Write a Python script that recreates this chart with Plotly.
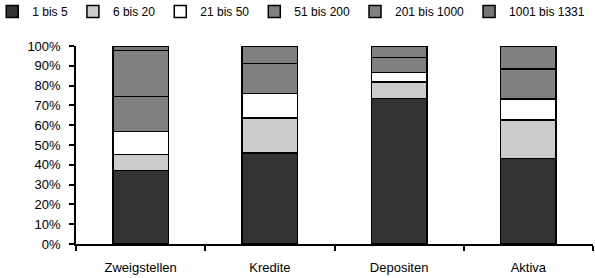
import plotly.graph_objects as go

categories = ["Zweigstellen", "Kredite", "Depositen", "Aktiva"]
series_names = ["1 bis 5", "6 bis 20", "21 bis 50", "51 bis 200", "201 bis 1000", "1001 bis 1331"]
v_1_5 = [37.0, 46.0, 73.6, 43.3]
v_6_20 = [8.3, 17.7, 8.1, 19.3]
v_21_50 = [11.4, 12.3, 4.8, 10.6]
v_51_200 = [17.7, 15.1, 7.6, 15.3]
v_201_1000 = [23.4, 8.9, 5.9, 11.5]
v_1001_1331 = [2.2, 0.0, 0.0, 0.0]
y_ticks = [0, 10, 20, 30, 40, 50, 60, 70, 80, 90, 100]
y_ticklabels = [f"{t}%" for t in y_ticks]

series_values = [v_1_5, v_6_20, v_21_50, v_51_200, v_201_1000, v_1001_1331]
colors = ["#333333", "#cccccc", "#ffffff", "#808080", "#808080", "#767676"]

fig = go.Figure()
for name, vals, col in zip(series_names, series_values, colors):
    fig.add_trace(go.Bar(
        name=name, x=categories, y=vals,
        marker=dict(color=col, line=dict(color="#000000", width=1.5)),
    ))

font_family = "Liberation Sans, Arial, sans-serif"
fig.update_layout(
    barmode="stack",
    bargap=0.57,
    width=595, height=278,
    margin=dict(l=76, r=2, t=46, b=34, autoexpand=False),
    paper_bgcolor="white", plot_bgcolor="white",
    font=dict(family=font_family, size=13, color="#000000"),
    showlegend=True,
    legend=dict(
        orientation="h",
        x=-0.162, xanchor="left",
        y=1.2474, yanchor="top",
        font=dict(size=12),
        traceorder="normal",
        bgcolor="rgba(0,0,0,0)",
        itemwidth=30,
    ),
)
fig.update_xaxes(
    showline=True, linecolor="#000000", linewidth=1.5,
    ticks="outside", tickson="boundaries", ticklen=5, tickcolor="#000000", tickwidth=1.5,
    showgrid=False, tickfont=dict(size=13), ticklabelstandoff=11,
)
fig.update_yaxes(
    range=[0, 100], tickvals=y_ticks, ticktext=y_ticklabels,
    showline=True, linecolor="#000000", linewidth=1.5,
    ticks="outside", ticklen=5, tickcolor="#000000", tickwidth=1.5,
    showgrid=False, zeroline=False, tickfont=dict(size=13), ticklabelstandoff=6,
)

fig.write_html("out.html", config={"displayModeBar": False},
               post_script="document.body.style.margin='0px';")
